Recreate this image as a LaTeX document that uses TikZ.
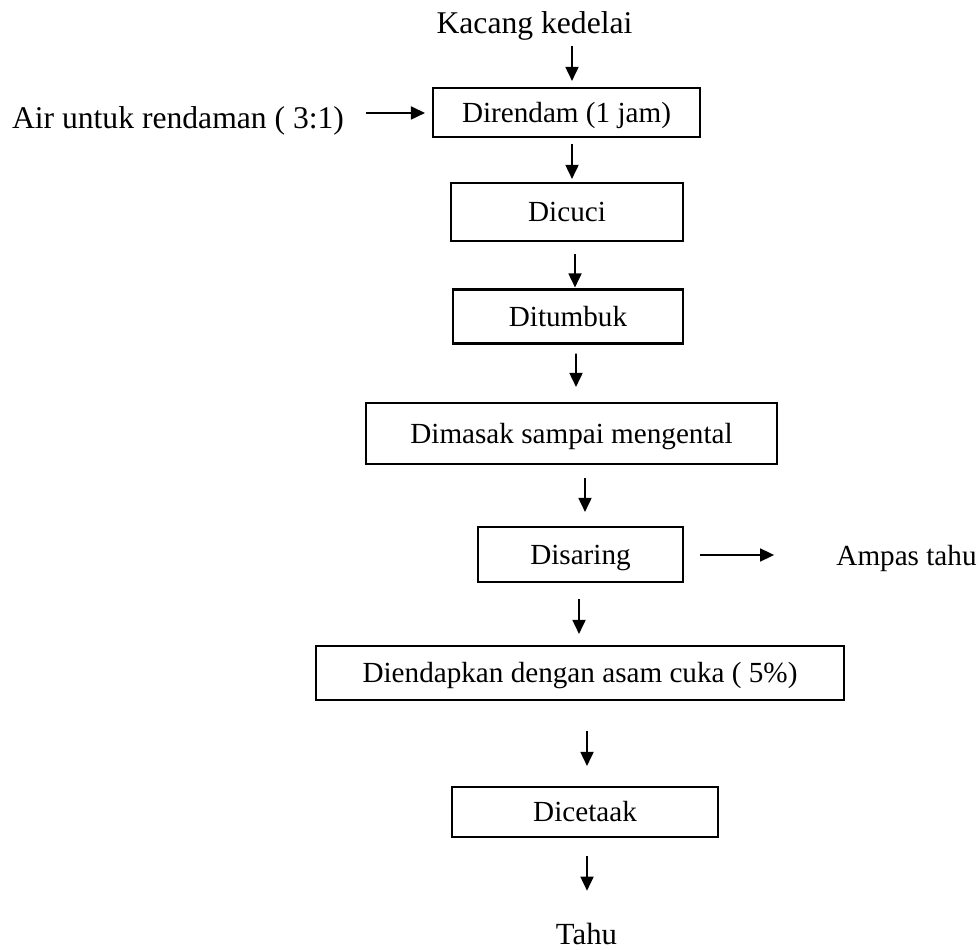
\documentclass[tikz,border=0pt]{standalone}
\usepackage{fontspec}
\setmainfont{Liberation Serif}
\usepackage{tikz}
\usetikzlibrary{calc, arrows.meta}

\begin{document}
\begin{tikzpicture}[>={Triangle[length=0.28cm, width=0.26cm]}, x=0.02cm, y=0.02cm,
    kotak/.style={draw, line width=1.2pt, inner sep=0pt, font=\fontsize{16.6pt}{20pt}\selectfont, text height=15.1pt, text depth=4.15pt},
    teks/.style={inner sep=0pt, font=\fontsize{18pt}{21pt}\selectfont, text height=16.4pt, text depth=4.5pt},
    panah/.style={->, line width=1pt}]
    \useasboundingbox (0,0) rectangle (979,949);

    % 1. Bahan awal dan air rendaman
    \node[teks] (kacang) at (534.5,926) {Kacang kedelai};
    \node[teks] (air) at (178,831) {Air untuk rendaman ( 3:1)};

    % 2. Kotak-kotak tahap proses
    \node[kotak, minimum width=5.34cm, minimum height=0.98cm] (rendam) at (566.5,836.5) {Direndam (1 jam)};
    \node[kotak, minimum width=4.64cm, minimum height=1.16cm] (cuci) at (567,737) {Dicuci};
    \node[kotak, minimum width=4.6cm, minimum height=1.08cm] (tumbuk) at (568,632.5) {Ditumbuk};
    \node[kotak, minimum width=8.22cm, minimum height=1.22cm] (masak) at (571.5,515.5) {Dimasak sampai mengental};
    \node[kotak, minimum width=4.1cm, minimum height=1.1cm] (saring) at (580.5,394.5) {Disaring};
    \node[kotak, minimum width=10.56cm, minimum height=1.08cm] (endap) at (580,276) {Diendapkan dengan asam cuka ( 5\%)};
    \node[kotak, minimum width=5.32cm, minimum height=1cm] (cetak) at (585,137) {Dicetaak};

    % 3. Hasil samping dan hasil akhir
    \node[teks, font=\fontsize{16.6pt}{20pt}\selectfont] (ampas) at (906.5,394) {Ampas tahu};
    \node[teks, font=\fontsize{17.5pt}{21pt}\selectfont] (tahu) at (586.5,14.5) {Tahu};

    % 4. Panah alur proses
    \draw[panah] ($(kacang.south)+(37.5,-4.6)$) -- ($(rendam.north)+(5.5,6)$);
    \draw[panah] ($(air.east)+(22,5)$) -- ($(rendam.west)+(-7,-0.5)$);
    \draw[panah] ($(rendam.south)+(5.5,-6)$) -- ($(cuci.north)+(5,3)$);
    \draw[panah] ($(cuci.south)+(8,-12)$) -- ($(tumbuk.north)+(7,1)$);
    \draw[panah] ($(tumbuk.south)+(8,-9)$) -- ($(masak.north)+(4.5,15)$);
    \draw[panah] ($(masak.south)+(13.5,-13)$) -- ($(saring.north)+(4.5,14)$);
    \draw[panah] ($(saring.east)+(16,-0.5)$) -- ($(ampas.west)+(-62,0)$);
    \draw[panah] ($(saring.south)+(-1.5,-16)$) -- ($(endap.north)+(-1,11)$);
    \draw[panah] ($(endap.south)+(7,-30)$) -- ($(cetak.north)+(2,20)$);
    \draw[panah] ($(cetak.south)+(2,-18)$) -- ($(tahu.north)+(0.5,25.1)$);

\end{tikzpicture}
\end{document}
